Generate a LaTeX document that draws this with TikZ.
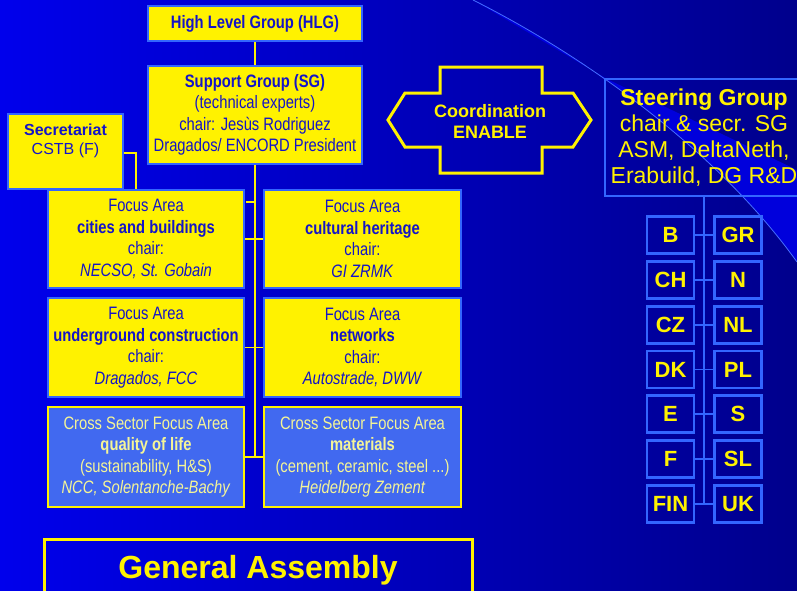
\documentclass[tikz,border=0pt]{standalone}
\usepackage{fontspec}
\setmainfont{Liberation Sans}
\newfontfamily\nar[FakeStretch=0.82]{Liberation Sans}
\definecolor{bgL}{RGB}{0,0,236}
\definecolor{bgR}{RGB}{0,0,140}
\definecolor{band}{RGB}{0,0,220}
\definecolor{arcc}{RGB}{70,110,255}
\definecolor{lb}{RGB}{51,102,255}
\definecolor{tb}{RGB}{20,20,200}
\definecolor{csf}{RGB}{65,105,240}
\definecolor{pale}{RGB}{245,245,150}
\tikzset{
  ybox/.style={draw=lb, line width=2.5pt, fill=yellow, text=tb, align=center, inner sep=0pt,
    font=\nar\fontsize{18}{21.5}\selectfont},
  csbox/.style={draw=yellow, line width=2pt, fill=csf, text=pale, align=center, inner sep=0pt,
    font=\nar\fontsize{18}{21.5}\selectfont},
  ctybox/.style={draw=lb, line width=2.5pt, text=yellow, inner sep=0pt,
    minimum width=47pt, minimum height=37pt, font=\bfseries\fontsize{22}{22}\selectfont},
  yline/.style={draw=yellow, line width=1.8pt},
  bline/.style={draw=lb, line width=1.6pt},
  plain/.style={inner sep=0pt, align=center}
}
\begin{document}
\begin{tikzpicture}[x=1pt,y=-1pt]
\clip (0,0) rectangle (797,590);
\shade[left color=bgL, right color=bgR] (0,0) rectangle (797,590);
% background decoration
\fill[band] (473,0) .. controls (583,55) and (717,150) .. (797,262) -- (797,170) -- (607,79) -- cycle;
\draw[arcc, line width=0.8pt] (473,0) .. controls (583,55) and (717,150) .. (797,262);

% left org chart
\node[ybox, minimum width=214pt, minimum height=35pt, font=\nar\bfseries\fontsize{18}{21.5}\selectfont] (hlg) at (255,23.5) {High Level Group (HLG)};
\node[ybox, minimum width=214pt, minimum height=98pt] (sg) at (255,115)
  {\textbf{Support Group (SG)}\\(technical experts)\\chair: Jesùs Rodriguez\\Dragados/ ENCORD President};
\node[ybox, minimum width=115pt, minimum height=75pt] (sec) at (65.5,151.5) {};
\node[plain, text=tb, font=\fontsize{16}{19}\selectfont] (sectext) at (65.5,141) {\textbf{Secretariat}\\CSTB (F)};

\node[ybox, minimum width=196pt, minimum height=98pt] (fa1) at (146,239)
  {Focus Area\\\textbf{cities and buildings}\\chair:\\\textit{NECSO, St. Gobain}};
\node[ybox, minimum width=197pt, minimum height=98pt] (fa2) at (362.5,239)
  {Focus Area\\\textbf{cultural heritage}\\chair:\\\textit{GI ZRMK}};
\node[ybox, minimum width=196pt, minimum height=99pt] (fa3) at (146,347.5)
  {Focus Area\\\textbf{underground construction}\\chair:\\\textit{Dragados, FCC}};
\node[ybox, minimum width=197pt, minimum height=99pt] (fa4) at (362.5,347.5)
  {Focus Area\\\textbf{networks}\\chair:\\\textit{Autostrade, DWW}};
\node[csbox, minimum width=196pt, minimum height=100pt] (cs1) at (146,457)
  {Cross Sector Focus Area\\\textbf{quality of life}\\(sustainability, H\&S)\\\textit{NCC, Solentanche-Bachy}};
\node[csbox, minimum width=197pt, minimum height=100pt] (cs2) at (362.5,457)
  {Cross Sector Focus Area\\\textbf{materials}\\(cement, ceramic, steel ...)\\\textit{Heidelberg Zement}};

% connectors (left)
\coordinate (secdrop) at (136,189);
\coordinate (vend) at (255,457);
\coordinate (t0a) at (246,202);
\coordinate (t0b) at (255,202);
\draw[yline] (hlg.south) -- (sg.north);
\draw[yline] (sg.south) -- (vend);
\draw[yline] (sec.east |- 0,153) -| (secdrop);
\draw[yline] (t0a) -- (t0b);
\draw[yline] (fa1.east) -- (fa2.west);
\draw[yline] (fa3.east) -- (fa4.west);
\draw[yline] (cs1.east) -- (cs2.west);

% coordination
\draw[yellow, line width=3pt, line join=miter]
  (388,120) -- (405,93) -- (440,93) -- (440,67) -- (542,67) -- (542,93) -- (573,93) -- (591,120)
  -- (573,147) -- (542,147) -- (542,173) -- (440,173) -- (440,147) -- (405,147) -- cycle;
\node[plain, text=yellow, font=\bfseries\fontsize{18}{21}\selectfont] (coord) at (490,121) {Coordination\\ENABLE};

% steering group
\node[draw=lb, line width=2.5pt, text=yellow, align=center, inner sep=0pt,
  minimum width=198pt, minimum height=117pt, font=\fontsize{23}{26}\selectfont] (steer) at (704,137.5)
  {\textbf{Steering Group}\\chair \& secr. SG\\ASM, DeltaNeth,\\Erabuild, DG R\&D};
\coordinate (send) at (704,504);
\draw[bline] (steer.south) -- (send);
\foreach \l/\r/\y [count=\i] in {B/GR/235, CH/N/280, CZ/NL/325, DK/PL/369.5, E/S/414, F/SL/459, FIN/UK/504}{
  \node[ctybox] (cl\i) at (670.5,\y) {\l};
  \node[ctybox] (cr\i) at (738,\y) {\r};
  \draw[bline] (cl\i.east) -- (cr\i.west);
}

% general assembly
\node[draw=yellow, line width=3pt, minimum width=428pt, minimum height=62pt, inner sep=0pt,
  text=yellow, font=\bfseries\fontsize{32}{32}\selectfont] (ga) at (258,570) {General Assembly};
\end{tikzpicture}
\end{document}
